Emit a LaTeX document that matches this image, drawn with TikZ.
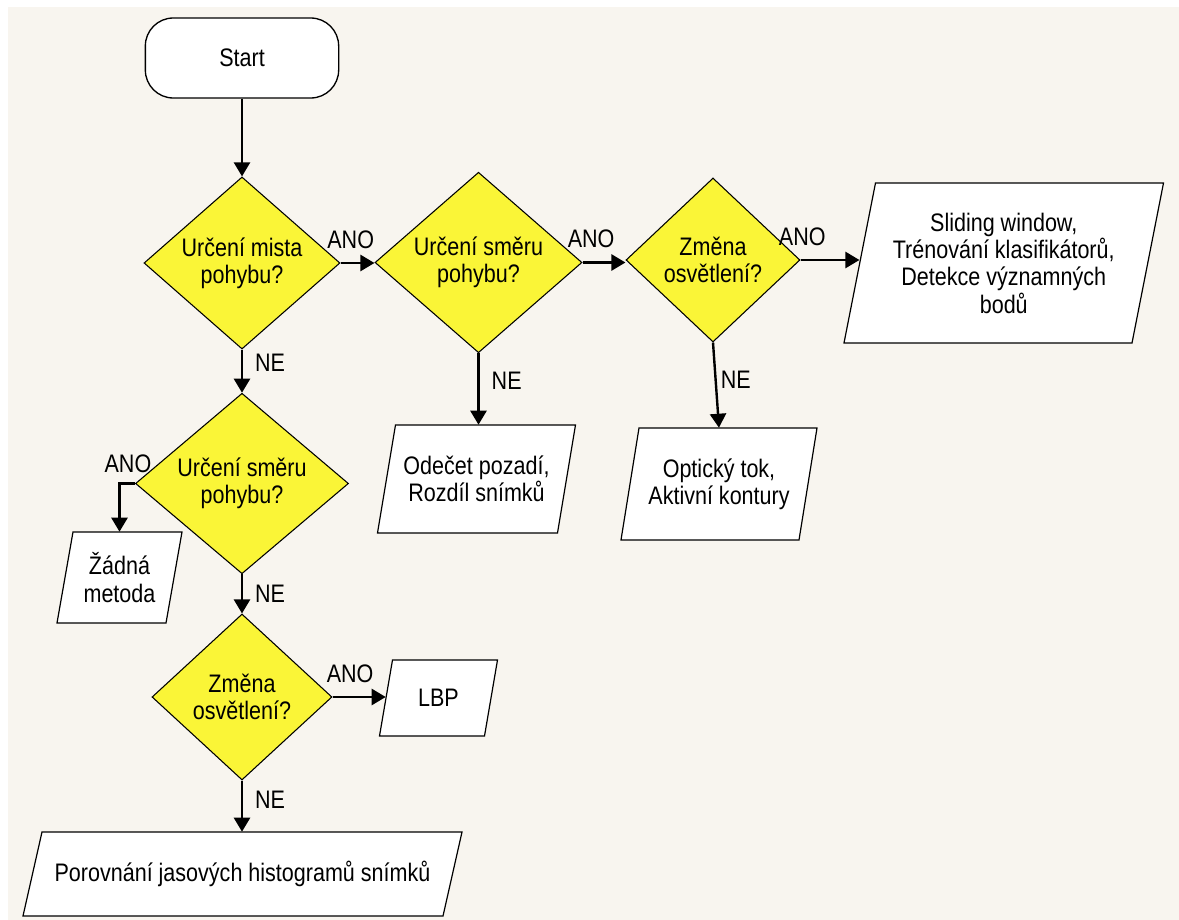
\documentclass[tikz,border=0pt]{standalone}
\usepackage{fontspec}
\setmainfont{Liberation Sans}[FakeStretch=0.85]
\usetikzlibrary{shapes.geometric,arrows.meta,calc}
\definecolor{bg}{RGB}{248,245,239}
\definecolor{dyellow}{RGB}{250,245,55}
\newcommand\flowpara[7]{%
  \path[parashape] ({#2-#4/2+#6},{#3-#5/2}) -- ({#2+#4/2+#6},{#3-#5/2}) -- ({#2+#4/2-#6},{#3+#5/2}) -- ({#2-#4/2-#6},{#3+#5/2}) -- cycle;
  \node[boxtext, minimum width=#4*0.75pt, minimum height=#5*0.75pt] (#1) at (#2,#3) {#7};
}
\begin{document}
\begin{tikzpicture}[x=0.75pt,y=-0.75pt,
  every node/.style={font=\fontsize{19}{20.5}\selectfont, text=black},
  decision/.style={diamond, draw=black, line width=0.8pt, fill=dyellow, inner sep=0pt, align=center},
  terminal/.style={rectangle, rounded corners=21pt, draw=black, line width=1pt, fill=white, align=center},
  boxtext/.style={rectangle, inner sep=0pt, align=center},
  parashape/.style={draw=black, line width=0.9pt, fill=white},
  flow/.style={line width=1.8pt, -{Triangle[length=10.5pt,width=12pt]}},
  lbl/.style={inner sep=0pt}
]
\fill[white] (0,0) rectangle (1179,920);
\fill[bg] (8,7) rectangle (1179,920);
\useasboundingbox (0,0) rectangle (1179,920);

% start
\node[terminal, minimum width=145pt, minimum height=60pt] (start) at (242,58) {Start};

% decisions
\node[decision, minimum width=147pt, minimum height=117.75pt] (d1) at (242,263) {Určení mista\\pohybu?};
\node[decision, minimum width=155.25pt, minimum height=119.25pt] (d2) at (478.5,262.5) {Určení směru\\pohybu?};
\node[decision, minimum width=130.5pt, minimum height=123pt] (d3) at (713,260) {Změna\\osvětlení?};
\node[decision, minimum width=159.75pt, minimum height=116.25pt] (d4) at (242,483.5) {Určení směru\\pohybu?};
\node[decision, minimum width=135pt, minimum height=124.5pt] (d5) at (242,697) {Změna\\osvětlení?};

% data boxes
\flowpara{sliding}{1003.75}{263}{288}{160}{15.75}{Sliding window,\\Trénování klasifikátorů,\\Detekce významných\\bodů}
\flowpara{odecet}{476.5}{479}{180}{108}{9}{Odečet pozadí,\\Rozdíl snímků}
\flowpara{optic}{719}{484}{178}{112}{9}{Optický tok,\\Aktivní kontury}
\flowpara{zadna}{119.5}{577.5}{109}{91}{8}{Žádná\\metoda}
\flowpara{lbp}{438.5}{698}{105}{76}{6.5}{LBP}
\flowpara{porov}{242.5}{874}{420}{84}{9.5}{Porovnání jasových histogramů snímků}

% connectors
\draw[flow] (start.south) -- (d1.north);
\draw[flow] (d1.east) -- (d1.east -| d2.west)
  node[lbl, pos=0.3, anchor=base, yshift=11pt] {ANO};
\draw[flow] (d2.east) -- (d2.east -| d3.west)
  node[lbl, pos=0.2, anchor=base, yshift=11pt] {ANO};
\draw[flow] (d3.east) -- (d3.east -| sliding.west)
  node[lbl, pos=0.03, anchor=base, yshift=11pt] {ANO};
\draw[flow] (d1.south) -- (d4.north)
  node[lbl, pos=0.31, anchor=west, xshift=9pt] {NE};
\draw[flow] (d2.south) -- (d2.south |- odecet.north)
  node[lbl, pos=0.39, anchor=west, xshift=9pt] {NE};
\draw[flow] (d3.south) -- (optic.north)
  node[lbl, pos=0.44, anchor=west, xshift=3pt] {NE};
\draw[flow] (d4.west) -| (zadna.north)
  node[lbl, pos=0, anchor=base, xshift=-5.25pt, yshift=8pt] {ANO};
\draw[flow] (d4.south) -- (d5.north)
  node[lbl, pos=0.5, anchor=west, xshift=9pt] {NE};
\draw[flow] (d5.east) -- (d5.east -| lbp.west)
  node[lbl, pos=0.33, anchor=base, yshift=11pt] {ANO};
\draw[flow] (d5.south) -- (d5.south |- porov.north)
  node[lbl, pos=0.38, anchor=west, xshift=9pt] {NE};
\end{tikzpicture}
\end{document}
